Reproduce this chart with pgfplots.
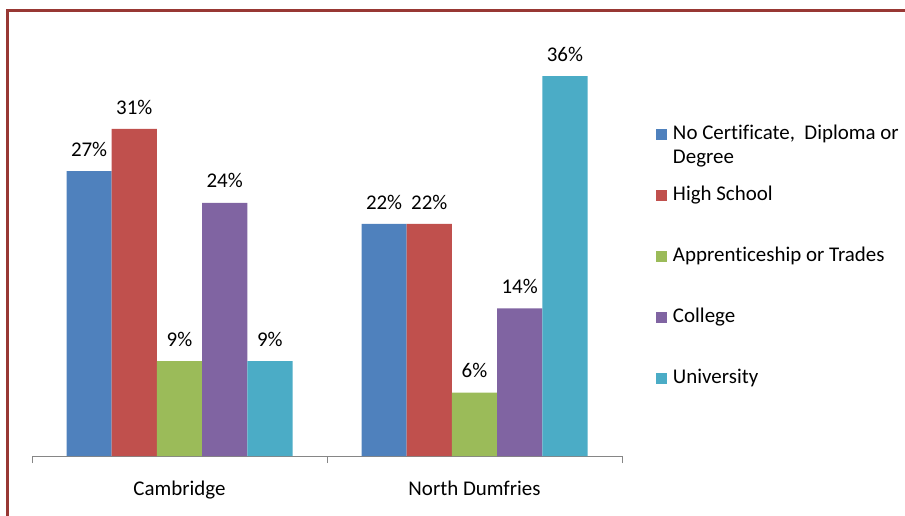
\documentclass[border=0pt]{standalone}
\usepackage{fontspec}
\setmainfont{Carlito}[Ligatures={NoCommon}]
\usepackage{pgfplots}
\pgfplotsset{compat=1.18}
\definecolor{cNo}{HTML}{4F81BD}
\definecolor{cHigh}{HTML}{C0504D}
\definecolor{cApp}{HTML}{9BBB59}
\definecolor{cCol}{HTML}{8064A2}
\definecolor{cUni}{HTML}{4BACC6}
\definecolor{frame}{RGB}{152,56,52}
\definecolor{axgray}{HTML}{868686}
\begin{document}
\fontsize{21}{24}\selectfont
\begin{tikzpicture}
\useasboundingbox (0bp,0bp) rectangle (905bp,516bp);
\draw[frame, line width=3bp] (7bp,-20bp) -- (7bp,505bp) -- (930bp,505bp);
\begin{axis}[
  at={(32bp,60bp)}, anchor=south west,
  width=590bp, height=422bp, scale only axis,
  xmin=-0.5, xmax=1.5, ymin=0, ymax=40,
  enlarge x limits=false,
  axis x line=bottom, axis y line=none,
  x axis line style={draw=axgray, line width=1bp, -},
  xtick={0,1}, xticklabels={Cambridge, North Dumfries},
  major tick length=0pt,
  minor xtick={-0.5,0.5,1.5}, minor tick length=7bp,
  tick align=outside,
  minor tick style={draw=axgray, line width=1bp},
  xticklabel style={yshift=-18bp},
  ybar=0pt, bar width=45.2bp,
  clip=false,
  /pgf/number format/assume math mode=true,
  nodes near coords={\pgfmathprintnumber{\pgfplotspointmeta}\%},
  every node near coord/.append style={anchor=south, yshift=7.5bp, text=black},
  legend cell align=left,
  legend style={draw=none, fill=none, at={(axis description cs:1.0576,0.7855)}, anchor=north west,
    inner sep=0pt, outer sep=0pt, row sep=41bp, column sep=6bp,
    nodes={inner sep=0pt, text height=15bp, text depth=5bp}},
  legend image code/.code={\fill[#1] (0bp,-5.5bp) rectangle (11bp,5.5bp);},
]
\addplot[fill=cNo, draw=none] coordinates {(0,27) (1,22)};
\addlegendentry{\parbox[t]{250bp}{No Certificate,\ \ Diploma or\\Degree}}
\addplot[fill=cHigh, draw=none] coordinates {(0,31) (1,22)};
\addlegendentry{High School}
\addplot[fill=cApp, draw=none] coordinates {(0,9) (1,6)};
\addlegendentry{Apprenticeship or Trades}
\addplot[fill=cCol, draw=none] coordinates {(0,24) (1,14)};
\addlegendentry{College}
\addplot[fill=cUni, draw=none] coordinates {(0,9) (1,36)};
\addlegendentry{University}
\end{axis}
\end{tikzpicture}
\end{document}
